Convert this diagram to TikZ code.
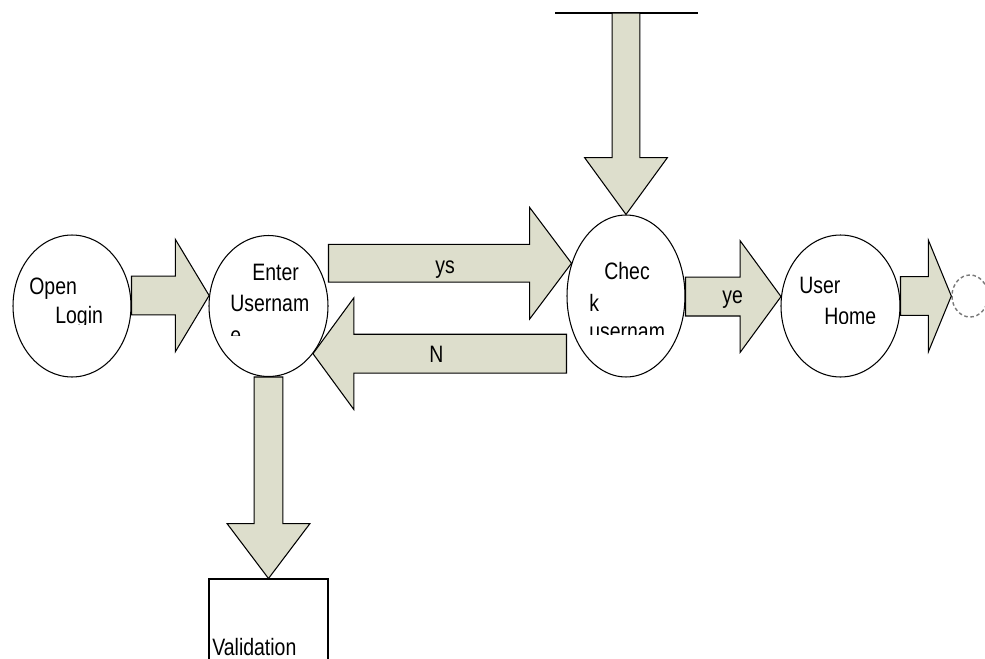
\documentclass[tikz,border=0pt]{standalone}
\usepackage{fontspec}
\setmainfont[FakeStretch=0.82]{Liberation Sans}
\usetikzlibrary{shapes,calc,positioning}
\definecolor{arrowfill}{RGB}{221,222,204}
\definecolor{endgray}{RGB}{120,120,120}
\def\pxu{0.5669pt}
\tikzset{
    state/.style={ellipse, draw, line width=0.6pt, inner sep=0pt},
    endstate/.style={ellipse, draw=endgray, dash pattern=on 2pt off 1.5pt, line width=0.8pt, inner sep=0pt},
    taskbox/.style={rectangle, draw, line width=0.6pt, inner sep=0pt},
    blockarrow/.style={draw, line width=0.6pt, fill=arrowfill, line join=miter},
    edge/.style={draw, line width=0.6pt},
    lbl/.style={inner sep=0pt, anchor=base west, font=\fontsize{13.5}{16}\selectfont},
}
% horizontal block arrow: tail, tip, shaft half, head half, head length (px)
\newcommand{\hblock}[5]{%
    \draw[blockarrow] let \p1=(#1), \p2=(#2), \n1={sign(\x2-\x1)*#5*0.5669} in
        (\x1,\y2+#3*\pxu) -- (\x2-\n1*1pt,\y2+#3*\pxu) -- (\x2-\n1*1pt,\y2+#4*\pxu)
        -- (\x2,\y2) -- (\x2-\n1*1pt,\y2-#4*\pxu) -- (\x2-\n1*1pt,\y2-#3*\pxu)
        -- (\x1,\y2-#3*\pxu) -- cycle;}
% vertical block arrow: tail, tip, shaft half, head half, head length (px)
\newcommand{\vblock}[5]{%
    \draw[blockarrow] let \p1=(#1), \p2=(#2), \n1={sign(\y2-\y1)*#5*0.5669} in
        (\x2+#3*\pxu,\y1) -- (\x2+#3*\pxu,\y2-\n1*1pt) -- (\x2+#4*\pxu,\y2-\n1*1pt)
        -- (\x2,\y2) -- (\x2-#4*\pxu,\y2-\n1*1pt) -- (\x2-#3*\pxu,\y2-\n1*1pt)
        -- (\x2-#3*\pxu,\y1) -- cycle;}

\begin{document}
\begin{tikzpicture}[x=0.02cm, y=-0.02cm]
    \useasboundingbox (0,0) rectangle (985,659);
    \clip (0,0) rectangle (985,659);

    % States
    \node[state, minimum width=2.36cm, minimum height=2.84cm] (login) at (72,306) {};
    \node[state, minimum width=2.38cm, minimum height=2.82cm] (enter) at (268.5,306) {};
    \node[state, minimum width=2.36cm, minimum height=3.24cm] (check) at (626,296) {};
    \node[state, minimum width=2.38cm, minimum height=2.84cm] (home) at (840.5,306) {};
    \node[endstate, minimum width=0.72cm, minimum height=0.84cm] (stop) at (970,296) {};
    \node[taskbox, minimum width=2.38cm, minimum height=2.42cm] (valid) at (268.5,639.5) {};

    % Source line at the top
    \coordinate (src) at (626,13);
    \coordinate (srcL) at (555,13);
    \coordinate (srcR) at (698,13);
    \draw[edge] (srcL) -- (srcR);

    % Block arrows
    \hblock{login.east}{enter.170}{19.5}{56.5}{34}
    \hblock{enter.east}{check.149}{19}{56}{42}
    \hblock{check.west}{enter.-47}{19.5}{56}{41}
    \hblock{check.east}{home.171}{19.5}{56}{41}
    \hblock{home.east}{stop.west}{19.5}{56}{23}
    \vblock{src}{check.north}{14}{41.5}{57}
    \vblock{enter.south}{valid.north}{14.5}{41.5}{55}

    % Texts in the states
    \begin{scope}
        \clip (0,0) rectangle (180,324) (180,0) rectangle (560,335)
              (560,0) rectangle (700,334) (700,0) rectangle (985,323);
        \node[lbl] (t1) at (29,294) {Open};
        \node[lbl] (t2) at (55,323) {Login};
        \node[lbl] (t3) at (252,280) {Enter};
        \node[lbl] (t4) at (230,311) {Usernam};
        \node[lbl] (t5) at (230,343) {e};
        \node[lbl] (t6) at (604,279) {Chec};
        \node[lbl] (t7) at (589,311) {k};
        \node[lbl] (t8) at (589,339) {usernam};
        \node[lbl] (t9) at (799,293) {User};
        \node[lbl] (t10) at (824,324) {Home};
    \end{scope}
    \node[lbl] (t11) at (212,655) {Validation};

    % Arrow labels
    \node[lbl] (ys) at (435,273) {ys};
    \node[lbl] (no) at (429,362) {N};
    \node[lbl] (ye) at (722,303) {ye};
\end{tikzpicture}
\end{document}
